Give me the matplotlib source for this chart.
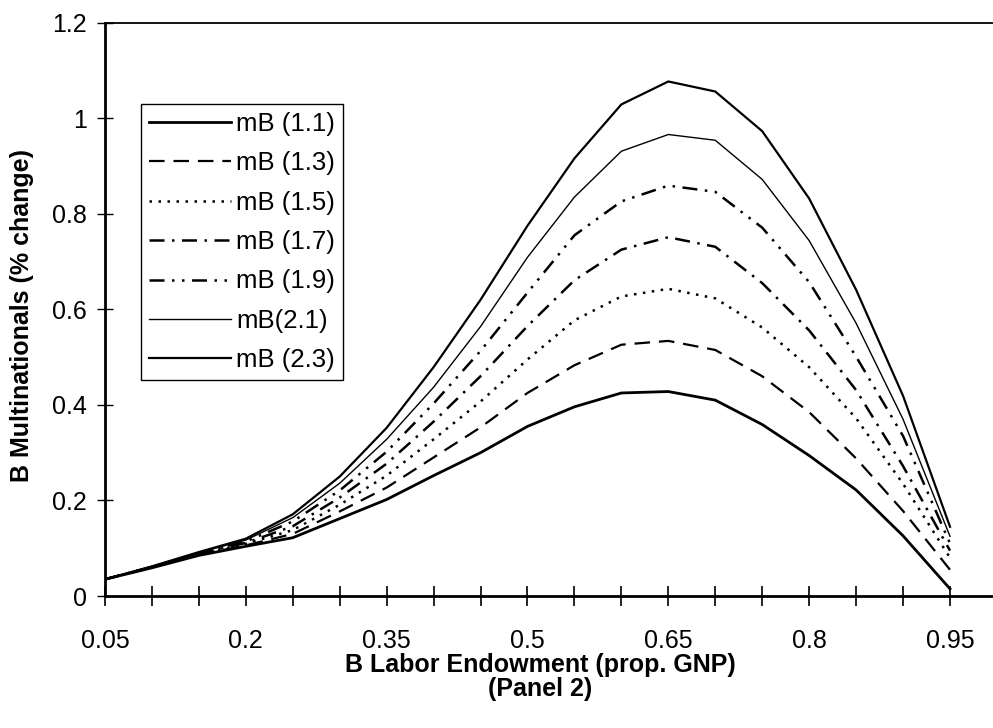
import numpy as np
import matplotlib
matplotlib.use("Agg")
import matplotlib.pyplot as plt

plt.rcParams['font.family'] = ['Liberation Sans', 'DejaVu Sans']

# B labor endowment (share of GNP), one point every 0.05
x = [0.05, 0.10, 0.15, 0.20, 0.25, 0.30, 0.35, 0.40, 0.45, 0.50,
     0.55, 0.60, 0.65, 0.70, 0.75, 0.80, 0.85, 0.90, 0.95]

# % change in B multinationals
mB_11 = [0.035, 0.059, 0.085, 0.104, 0.122, 0.162, 0.202, 0.252, 0.300, 0.355,
         0.396, 0.425, 0.428, 0.410, 0.359, 0.294, 0.222, 0.126, 0.015]
mB_13 = [0.035, 0.060, 0.086, 0.106, 0.130, 0.177, 0.227, 0.290, 0.353, 0.425,
         0.483, 0.526, 0.534, 0.515, 0.460, 0.385, 0.288, 0.178, 0.055]
mB_15 = [0.035, 0.060, 0.087, 0.109, 0.138, 0.191, 0.252, 0.328, 0.407, 0.495,
         0.577, 0.627, 0.643, 0.623, 0.562, 0.479, 0.372, 0.235, 0.080]
mB_17 = [0.035, 0.061, 0.089, 0.111, 0.146, 0.206, 0.277, 0.365, 0.460, 0.565,
         0.661, 0.725, 0.751, 0.731, 0.655, 0.556, 0.431, 0.272, 0.095]
mB_19 = [0.035, 0.061, 0.090, 0.114, 0.156, 0.221, 0.302, 0.403, 0.513, 0.635,
         0.755, 0.826, 0.859, 0.846, 0.771, 0.657, 0.501, 0.335, 0.110]
mB_21 = [0.035, 0.062, 0.091, 0.117, 0.164, 0.236, 0.328, 0.437, 0.564, 0.709,
         0.835, 0.931, 0.966, 0.954, 0.872, 0.744, 0.571, 0.370, 0.125]
mB_23 = [0.035, 0.062, 0.092, 0.120, 0.171, 0.250, 0.352, 0.479, 0.620, 0.775,
         0.916, 1.029, 1.077, 1.056, 0.973, 0.832, 0.641, 0.419, 0.145]

labels = ["mB (1.1)", "mB (1.3)", "mB (1.5)", "mB (1.7)", "mB (1.9)",
          "mB(2.1)", "mB (2.3)"]

xtick_labels = ["0.05", "0.2", "0.35", "0.5", "0.65", "0.8", "0.95"]
ytick_labels = ["0", "0.2", "0.4", "0.6", "0.8", "1", "1.2"]

fig = plt.figure(figsize=(9.93, 7.28), dpi=100)
ax = fig.add_axes([0.1057, 0.1813, 0.8943, 0.7875])

series = [mB_11, mB_13, mB_15, mB_17, mB_19, mB_21, mB_23]
styles = [
    dict(lw=2.0, ls='-'),
    dict(lw=1.6, dashes=(7, 4)),
    dict(lw=1.8, dashes=(1, 2.6)),
    dict(lw=1.8, dashes=(6, 3, 1, 3)),
    dict(lw=1.8, dashes=(6, 3, 1, 3, 1, 3)),
    dict(lw=1.0, ls='-'),
    dict(lw=1.6, ls='-'),
]
for y, lab, st in zip(series, labels, styles):
    ax.plot(x, y, color='black', label=lab, **st)

ax.set_xlim(0.05, 0.9958)
ax.set_ylim(0, 1.2)

ax.set_xticks(x)
ax.set_xticklabels([xtick_labels[i // 3] if i % 3 == 0 else "" for i in range(len(x))])
ax.set_yticks(np.arange(7) * 0.2)
ax.set_yticklabels(ytick_labels)
ax.tick_params(axis='x', direction='inout', length=14, width=1.2, pad=17, labelsize=18)
ax.tick_params(axis='y', direction='inout', length=12, width=1.0, pad=7, labelsize=18)

ax.spines['right'].set_visible(False)
ax.spines['left'].set_linewidth(2.0)
ax.spines['bottom'].set_linewidth(2.0)
ax.spines['top'].set_linewidth(1.3)

ax.set_xlabel("B Labor Endowment (prop. GNP)\n(Panel 2)", fontsize=18,
              fontweight='bold', linespacing=1.0)
ax.xaxis.set_label_coords(0.49, -0.1, transform=ax.transAxes)
ax.xaxis.label.set_verticalalignment('top')
ax.set_ylabel("B Multinationals (% change)", fontsize=18, fontweight='bold')
ax.yaxis.set_label_coords(-0.08, 0.49)

leg = ax.legend(loc='upper left', bbox_to_anchor=(0.0405, 0.858),
                borderaxespad=0, fontsize=18.5, handlelength=3.2,
                handletextpad=0.2, labelspacing=0.6, borderpad=0.3,
                fancybox=False, framealpha=1, edgecolor='black')
leg.get_frame().set_linewidth(1.0)

fig.savefig("out.png", dpi=100)
